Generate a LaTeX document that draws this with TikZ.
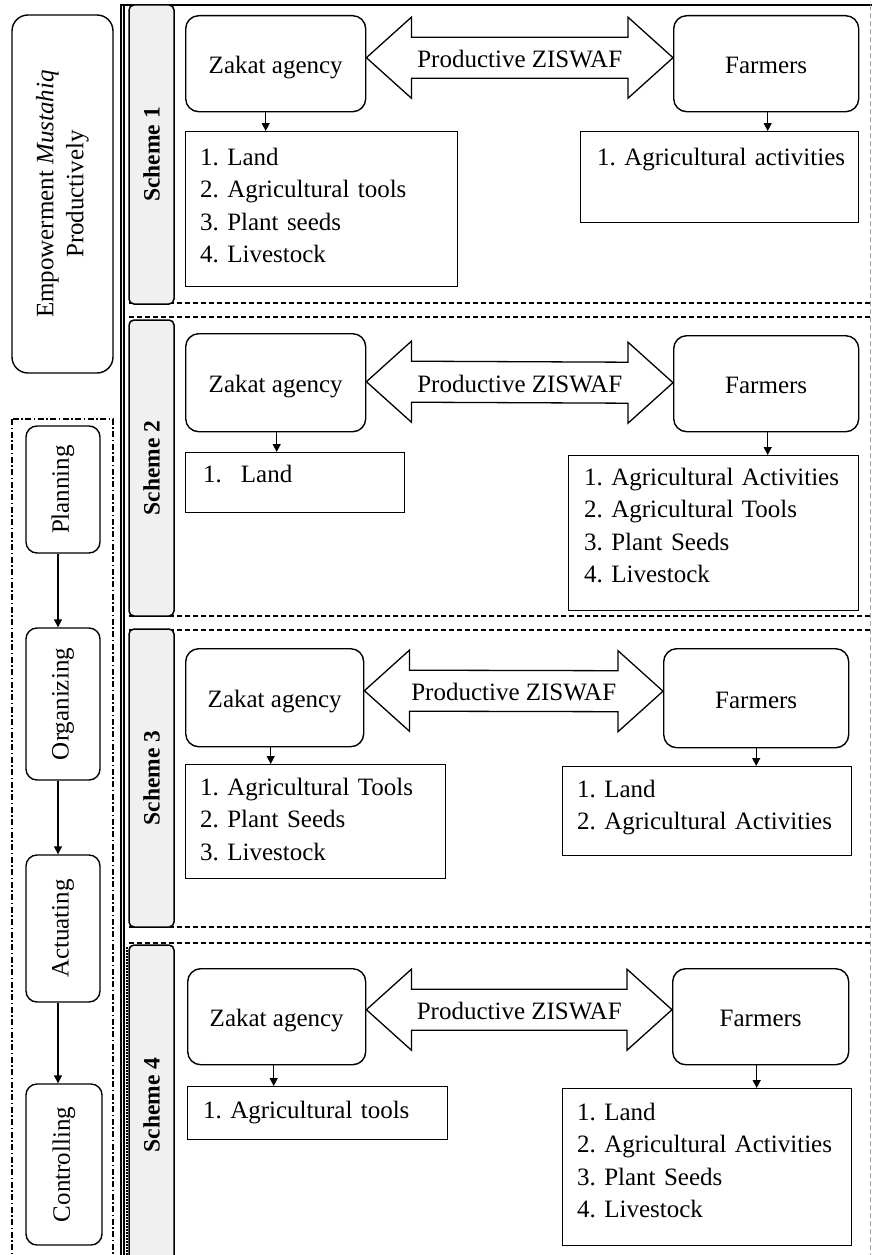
\documentclass[tikz,border=0pt]{standalone}
\usepackage{fontspec}
\setmainfont{Liberation Serif}
\usetikzlibrary{arrows.meta,calc}

% Double-headed "Productive ZISWAF" arrow between two nodes
% #1 left node, #2 right node, #3 shift of the axis, #4 name of the label node
\newcommand\ziswafarrow[4]{%
  \coordinate (#4L) at ($(#1.east)+(0,#3)$);
  \coordinate (#4R) at ($(#2.west)+(0,#3)$);
  \draw[bigarrow] (#4L) -- ($(#4L)+(45,-40.5)$) -- ($(#4L)+(45,-20.5)$)
    -- ($(#4R)+(-45,-20.5)$) -- ($(#4R)+(-45,-40.5)$) -- (#4R)
    -- ($(#4R)+(-45,40.5)$) -- ($(#4R)+(-45,20.5)$)
    -- ($(#4L)+(45,20.5)$) -- ($(#4L)+(45,40.5)$) -- cycle;
  \node[ctext] (#4) at ($(#4L)!0.5!(#4R)$) {Productive ZISWAF};
}

\begin{document}
\begin{tikzpicture}[x=1pt,y=-1pt,
  every node/.style={font=\fontsize{25}{32.5}\selectfont\frenchspacing},
  rbox/.style={draw, line width=1.4pt, rounded corners=13pt, anchor=north west,
    text height=20pt, text depth=0pt, inner sep=0pt},
  lbox/.style={draw, line width=1.4pt, anchor=north west, inner sep=0pt},
  ltext/.style={anchor=base west, align=left, text width=285pt, inner sep=0pt},
  ctext/.style={text height=20pt, text depth=0pt, inner sep=0pt},
  bigarrow/.style={draw, line width=1.3pt, line join=miter},
  flow/.style={line width=1.3pt, -{Triangle[length=8pt,width=8pt]}},
  schemebar/.style={draw, line width=1.5pt, rounded corners=5pt,
    fill={rgb,255:red,240;green,240;blue,240}, rotate=90, inner sep=0pt,
    font=\fontsize{23.5}{28}\selectfont\bfseries},
  pbox/.style={draw, line width=1.4pt, rounded corners=11pt, rotate=90, inner sep=0pt},
  paneledge/.style={line width=1.3pt, dash pattern=on 5pt off 3pt},
  sideedge/.style={line width=0.8pt, gray!70, dash pattern=on 5pt off 3pt},
  dashdot/.style={line width=1.3pt, dash pattern=on 6pt off 2.5pt on 1.5pt off 2.5pt},
]
\clip (0,0) rectangle (872,1255);

% ---------- left column ----------
\node[pbox, rounded corners=16pt, minimum width=358pt, minimum height=101pt,
  align=center, font=\fontsize{25}{30}\selectfont] (emp) at (62.5,194)
  {Empowerment \textit{Mustahiq}\\Productively};

\draw[dashdot] (12,419) rectangle (113,1265);

\node[pbox, minimum width=127pt, minimum height=74pt] (plan) at (63,489.5) {Planning};
\node[pbox, minimum width=152pt, minimum height=74pt] (org)  at (63,704) {Organizing};
\node[pbox, minimum width=147pt, minimum height=74pt] (act)  at (63,928.5) {Actuating};
\node[pbox, minimum width=161pt, minimum height=76pt] (ctl)  at (64,1164.5) {Controlling};

\draw[flow] ([xshift=-5pt]plan.west) -- ([xshift=-5pt]org.east);
\draw[flow] ([xshift=-5pt]org.west) -- ([xshift=-5pt]act.east);
\draw[flow] ([xshift=-5pt]act.west) -- ([xshift=-6pt]ctl.east);

% ---------- outer frame ----------
\draw[line width=1.5pt] (121,1265) -- (121,5) -- (872,5);
\draw[line width=1.3pt] (124,5) -- (124,1265);
\draw[sideedge] (870,5) -- (870,1265);

% panel borders
\draw[paneledge] (129,303) -- (870,303);
\draw[paneledge] (129,317) -- (870,317);
\draw[paneledge] (129,616) -- (870,616);
\draw[paneledge] (129,630) -- (870,630);
\draw[paneledge] (129,927) -- (870,927);
\draw[paneledge] (129,943) -- (870,943);

% scheme bars
\node[schemebar, minimum width=299pt, minimum height=45pt] (s1) at (151.5,154.5) {Scheme 1};
\node[schemebar, minimum width=296pt, minimum height=45pt] (s2) at (151.5,468) {Scheme 2};
\node[schemebar, minimum width=298pt, minimum height=45pt] (s3) at (151.5,778) {Scheme 3};
\node[schemebar, minimum width=320pt, minimum height=45pt] (s4) at (151.5,1105) {Scheme 4};
\draw[line width=1.6pt, dash pattern=on 1.5pt off 1.5pt] (127,947) -- (127,1265);

% ---------- scheme 1 ----------
\node[rbox, minimum width=180pt, minimum height=96pt] (z1) at (185,15) {Zakat agency};
\node[rbox, minimum width=185pt, minimum height=96pt] (f1) at (673,15) {Farmers};
\ziswafarrow{z1}{f1}{-6}{a1}
\node[lbox, minimum width=272pt, minimum height=155pt] (zl1) at (185,131) {};
\node[lbox, minimum width=278pt, minimum height=91pt] (fl1) at (580,131) {};
\node[ltext] (zt1) at (200,165) {1. Land\\2. Agricultural tools\\3. Plant seeds\\4. Livestock};
\node[ltext] (ft1) at (597,165) {1. Agricultural activities};
\draw[flow] ([xshift=-10pt]z1.south) -- ([xshift=-10pt]z1.south |- zl1.north);
\draw[flow] ([xshift=1.5pt]f1.south) -- ([xshift=1.5pt]f1.south |- fl1.north);

% ---------- scheme 2 ----------
\node[rbox, minimum width=180pt, minimum height=98pt] (z2) at (185,333) {Zakat agency};
\node[rbox, minimum width=185pt, minimum height=96pt] (f2) at (673,335) {Farmers};
\ziswafarrow{z2}{f2}{-1}{a2}
\node[lbox, minimum width=219pt, minimum height=60pt] (zl2) at (185,452) {};
\node[lbox, minimum width=290pt, minimum height=155pt] (fl2) at (568,455) {};
\node[ltext] (zt2) at (203,482) {1.\hspace{19pt}Land};
\node[ltext] (ft2) at (584,485) {1. Agricultural Activities\\2. Agricultural Tools\\3. Plant Seeds\\4. Livestock};
\draw[flow] ([xshift=1pt]z2.south) -- ([xshift=1pt]z2.south |- zl2.north);
\draw[flow] ([xshift=1.5pt]f2.south) -- ([xshift=1.5pt]f2.south |- fl2.north);

% ---------- scheme 3 ----------
\node[rbox, minimum width=178pt, minimum height=98pt] (z3) at (185,648) {Zakat agency};
\node[rbox, minimum width=185pt, minimum height=99pt] (f3) at (663,648) {Farmers};
\ziswafarrow{z3}{f3}{-7}{a3}
\node[lbox, minimum width=260pt, minimum height=114pt] (zl3) at (185,764) {};
\node[lbox, minimum width=289pt, minimum height=89pt] (fl3) at (562,766) {};
\node[ltext] (zt3) at (200,795) {1. Agricultural Tools\\2. Plant Seeds\\3. Livestock};
\node[ltext] (ft3) at (577,797) {1. Land\\2. Agricultural Activities};
\draw[flow] ([xshift=-4pt]z3.south) -- ([xshift=-4pt]z3.south |- zl3.north);
\draw[flow] (f3.south) -- (f3.south |- fl3.north);

% ---------- scheme 4 ----------
\node[rbox, minimum width=178pt, minimum height=96pt] (z4) at (187,968) {Zakat agency};
\node[rbox, minimum width=176pt, minimum height=96pt] (f4) at (672,968) {Farmers};
\ziswafarrow{z4}{f4}{-7}{a4}
\node[lbox, minimum width=260pt, minimum height=53pt] (zl4) at (187,1086) {};
\node[lbox, minimum width=289pt, minimum height=157pt] (fl4) at (562,1088) {};
\node[ltext] (zt4) at (203,1118) {1. Agricultural tools};
\node[ltext] (ft4) at (577,1120) {1. Land\\2. Agricultural Activities\\3. Plant Seeds\\4. Livestock};
\draw[flow] ([xshift=-3pt]z4.south) -- ([xshift=-3pt]z4.south |- zl4.north);
\draw[flow] ([xshift=-4pt]f4.south) -- ([xshift=-4pt]f4.south |- fl4.north);
\end{tikzpicture}
\end{document}
